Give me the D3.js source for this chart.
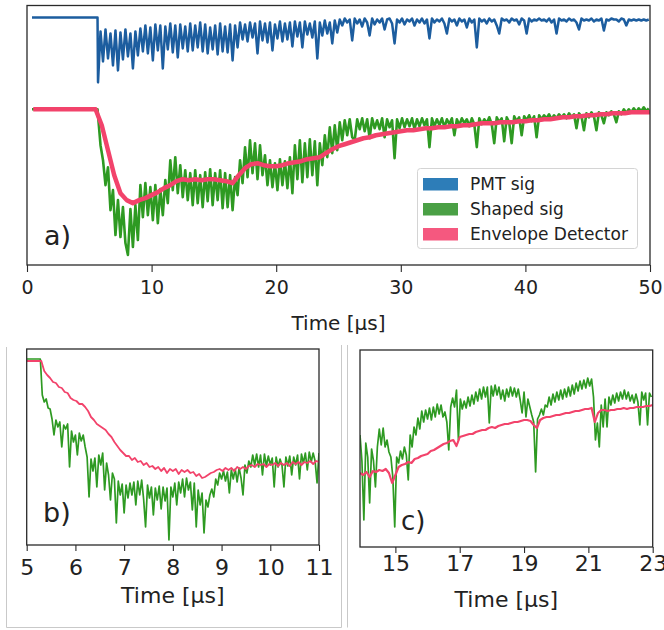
<!DOCTYPE html>
<html>
<head>
<meta charset="utf-8">
<script src="https://cdn.jsdelivr.net/npm/d3@7"></script>
<style>
  body { margin: 0; background: #fff; }
  svg { display: block; }
  text { font-family: "DejaVu Sans", sans-serif; fill: #222; }
</style>
</head>
<body>
<svg id="fig" width="664" height="630"></svg>
<script>
// ---------------- data (arbitrary amplitude units, time in µs) ----------------
// Panel a: full 50 µs record. Traces are stacked; baseline levels before the trigger.
const triggerA = 5.66;
const pmtBaseA = 248;
const shapedBaseA = 156;

// PMT signal, sampled every 0.2 µs from 5.7 µs
const pmtA_t0 = 5.7, pmtA_dt = 0.2;
const pmtSigA = [
  183,234,204,236,207,232,200,235,195,233,206,236,209,232,197,234,210,
  237,214,240,212,238,205,241,215,240,197,239,216,242,213,240,208,241,217,239,214,
  242,215,240,218,243,214,241,212,238,216,240,211,242,214,239,213,241,205,240,218,
  243,226,241,224,243,228,242,212,244,225,242,223,243,215,241,227,244,224,242,226,
  243,219,244,229,243,218,244,231,242,228,244,207,243,230,245,232,243,222,245,233,
  246,240,247,243,246,225,247,242,246,239,247,243,230,247,241,246,243,247,236,246,
  247,242,222,246,243,247,241,246,244,247,240,246,243,247,242,246,227,247,243,246,
  244,247,242,232,247,244,246,240,247,244,246,238,247,243,246,218,247,244,246,242,
  247,244,246,240,232,247,245,246,243,247,245,246,241,247,245,232,247,244,246,245,
  247,245,246,244,247,243,246,232,247,245,246,244,247,245,246,243,236,247,245,246,
  245,247,244,246,245,247,235,246,245,247,246,246,244,247,246,240,246,245,246,245,246,245,246,245,246
];

// Shaped signal, sampled every 0.2 µs from 5.7 µs
const shapedA_t0 = 5.7, shapedA_dt = 0.2;
const shapedSigA = [
  150,120,105,80,98,55,75,30,65,28,58,22,10,56,18,60,25,
  80,48,82,50,78,45,80,42,76,50,85,62,105,75,108,72,100,68,95,65,
  92,60,95,62,90,58,93,64,96,60,92,65,95,57,92,58,90,55,88,70,
  105,82,118,88,125,92,122,86,120,90,110,80,105,78,102,75,106,80,104,77,
  108,72,120,86,125,83,122,88,126,90,124,80,122,100,130,108,138,112,140,115,
  143,125,145,130,146,128,125,146,136,147,134,146,127,147,137,145,136,147,128,146,
  138,145,107,146,137,147,138,146,139,147,136,146,139,147,140,146,118,147,139,146,
  140,147,138,146,141,147,130,146,140,147,142,146,139,147,141,118,147,141,146,142,
  148,141,122,148,143,147,124,148,143,122,149,144,148,130,149,145,150,144,149,128,
  150,146,150,147,151,146,150,147,151,148,151,147,152,148,151,137,152,149,135,152,
  148,153,149,135,153,150,142,153,150,154,151,143,154,151,156,152,156,153,157,153,157,154,158,154,157
];

// Envelope detector output, every 0.5 µs from 0.5 µs
const envA_t0 = 0.5, envA_dt = 0.5;
const envelopeA = [
  156,156,156,156,156,156,156,156,156,156,156,
  140,115,90,72,65,62,65,67,70,
  73,77,80,84,86,85,86,85,86,86,
  85,84,82,90,97,101,102,100,99,99,
  100,102,103,104,106,107,108,112,116,119,
  121,123,125,127,128,130,131,132,133,134,
  135,135,136,137,137,138,138,139,139,140,
  140,141,142,142,142,143,143,143,144,144,
  145,145,146,146,147,148,148,149,149,150,
  150,151,151,152,152,152,153,153,153,153
];
const ticksA = [0, 10, 20, 30, 40, 50];

// Panel b: zoom on 5–11 µs
const shapedB_t0 = 5.0, shapedB_dt = 0.04;
const shapedSigB = [
  186,186,186,186,186,186,186,186,150,143,146,137,136,126,110,125,118,123,98,120,
  116,121,78,114,103,110,90,112,104,110,98,88,48,86,74,87,58,90,80,92,
  55,82,70,45,72,66,22,64,50,61,32,60,47,62,50,63,40,64,50,65,
  46,18,60,47,58,30,57,45,59,36,58,44,57,5,58,48,62,40,63,52,
  66,48,67,55,63,35,62,18,55,40,52,12,45,38,50,56,48,66,60,72,
  66,74,64,73,52,75,66,76,63,77,67,50,80,72,84,78,90,80,91,78,
  90,70,91,79,89,80,87,58,88,78,86,80,58,88,79,89,70,88,80,90,
  66,91,82,92,75,93,83,92,84,62,92
];
const envB_t0 = 5.0, envB_dt = 0.06;
const envelopeB = [
  184,184,184,184,184,184,174,170,167,163,162,158,157,153,152,147,145,144,141,141,
  138,134,128,125,121,119,117,115,111,108,103,99,95,92,89,89,85,87,83,84,
  80,82,78,79,76,78,74,77,72,76,74,76,71,75,73,75,72,73,69,71,
  67,68,70,72,73,75,76,74,77,75,77,74,78,76,78,76,79,80,78,81,
  80,81,78,81,80,82,79,82,80,82,79,83,81,83,80,83,82,84,81,84,83
];
const ticksB = [5, 6, 7, 8, 9, 10, 11];

// Panel c: zoom on 13.9–23 µs
const shapedC_t0 = 13.9, shapedC_dt = 0.06;
const shapedSigC = [
  112,86,27,104,90,44,98,86,60,100,118,102,119,100,107,95,90,70,20,90,
  84,96,88,100,92,67,112,100,120,112,129,118,136,125,137,128,139,127,140,130,
  143,133,142,130,135,125,97,140,149,140,157,107,148,138,146,139,150,141,152,143,
  155,146,158,148,160,150,160,124,161,151,162,152,160,148,157,146,158,150,160,151,
  159,150,158,147,134,155,130,148,140,132,125,75,128,132,138,132,142,140,150,142,
  153,145,155,147,157,148,158,150,160,151,162,153,164,156,166,158,167,159,169,161,
  168,150,107,124,100,142,120,148,120,150,142,152,144,154,146,155,148,157,148,155,
  146,152,144,153,145,122,155,147,154,122,154,150
];
const envC_t0 = 13.9, envC_dt = 0.1;
const envelopeC = [
  74,72,75,70,76,75,77,76,78,74,64,72,80,82,83,85,84,88,89,91,
  92,93,96,97,99,101,103,104,106,107,101,110,111,112,113,113,115,116,117,117,
  119,120,119,121,122,123,123,124,125,125,126,127,127,126,122,119,127,129,130,130,
  131,132,132,133,134,134,135,136,136,137,138,138,139,125,134,137,137,136,137,137,
  138,138,139,138,139,139,140,140,140,141,141,142
];
const ticksC = [15, 17, 19, 21, 23];

const legendItems = ["PMT sig", "Shaped sig", "Envelope Detector"];

// ---------------- styles ----------------
const C = {
  pmt: "#1c5d9f", shaped: "#2e9a22", env: "#f2436b",
  pmtPatch: "#2d7db8", shapedPatch: "#4aa045", envPatch: "#f5587f",
  frame: "#2a2a2a"
};

const svg = d3.select("#fig");
const seq = (t0, dt, vals) => vals.map((v, i) => [t0 + i * dt, v]);

// light container lines around the two zoom panels
const box = svg.append("g").attr("stroke", "#c9c9c9").attr("stroke-width", 1).attr("fill", "none");
box.append("path").attr("d", "M6.5,347V627.5H341.5V345");
box.append("path").attr("d", "M347.5,345V627.5");

function panel(o) {
  const x = d3.scaleLinear().domain(o.xDomain).range([o.left, o.right]);
  const y = d3.scaleLinear().domain(o.yDomain).range([o.bottom, o.top]);
  const g = svg.append("g");
  const clipId = "clip-" + o.id;
  svg.append("clipPath").attr("id", clipId)
    .append("rect").attr("x", o.left).attr("y", o.top)
    .attr("width", o.right - o.left).attr("height", o.bottom - o.top);

  const line = d3.line().x(d => x(d[0])).y(d => y(d[1]));
  const plot = g.append("g").attr("clip-path", `url(#${clipId})`);
  o.series.forEach(s => {
    plot.append("path").datum(s.data)
      .attr("d", line)
      .attr("fill", "none")
      .attr("stroke", s.color)
      .attr("stroke-width", s.width)
      .attr("stroke-linejoin", "round")
      .attr("stroke-linecap", "butt");
  });

  // axis
  const axis = d3.axisBottom(x).tickValues(o.ticks).tickSizeOuter(0)
    .tickSize(o.tickSize).tickPadding(o.tickPad).tickFormat(d3.format("d"));
  const ax = g.append("g").attr("transform", `translate(0,${o.bottom})`).call(axis);
  ax.select(".domain").remove();
  ax.selectAll(".tick line").attr("stroke", C.frame).attr("stroke-width", 1.1);
  ax.selectAll(".tick text").attr("font-size", o.tickFont)
    .attr("font-family", "DejaVu Sans, sans-serif").attr("fill", "#222");

  // frame
  g.append("rect").attr("x", o.left).attr("y", o.top)
    .attr("width", o.right - o.left).attr("height", o.bottom - o.top)
    .attr("fill", "none").attr("stroke", C.frame).attr("stroke-width", 1.3);

  // axis label
  g.append("text").attr("x", (o.left + o.right) / 2).attr("y", o.labelY)
    .attr("text-anchor", "middle").attr("font-size", o.labelFont)
    .text("Time [μs]");

  // panel tag
  g.append("text").attr("x", o.tagX).attr("y", o.tagY)
    .attr("font-size", o.tagFont).text(o.tag);
  return { x, y, g };
}

// ---- panel a ----
panel({
  id: "a", left: 27, right: 650, top: 5.5, bottom: 265,
  xDomain: [0, 50], yDomain: [0, 260], ticks: ticksA,
  tickSize: 7, tickPad: 9, tickFont: 19, labelFont: 20, labelY: 330,
  tag: "a)", tagX: 44, tagY: 245, tagFont: 27,
  series: [
    { data: [[0.4, pmtBaseA], [triggerA, pmtBaseA], ...seq(pmtA_t0, pmtA_dt, pmtSigA)], color: C.pmt, width: 2.5 },
    { data: [[0.4, shapedBaseA], [triggerA, shapedBaseA], ...seq(shapedA_t0, shapedA_dt, shapedSigA)], color: C.shaped, width: 2.6 },
    { data: seq(envA_t0, envA_dt, envelopeA), color: C.env, width: 4.5 }
  ]
});

// legend for panel a
const lg = svg.append("g");
lg.append("rect").attr("x", 417.5).attr("y", 168.5).attr("width", 220).attr("height", 80)
  .attr("rx", 3).attr("fill", "#fff").attr("fill-opacity", 0.85)
  .attr("stroke", "#d4d4d4").attr("stroke-width", 1);
const patchColors = [C.pmtPatch, C.shapedPatch, C.envPatch];
legendItems.forEach((name, i) => {
  lg.append("rect").attr("x", 423).attr("y", 178 + i * 25).attr("width", 35).attr("height", 12.5)
    .attr("fill", patchColors[i]);
  lg.append("text").attr("x", 470).attr("y", 190 + i * 24.8).attr("font-size", 17).text(name);
});

// ---- panel b ----
panel({
  id: "b", left: 26.7, right: 319, top: 349, bottom: 545,
  xDomain: [5, 11], yDomain: [0, 196], ticks: ticksB,
  tickSize: 6, tickPad: 8, tickFont: 22, labelFont: 22, labelY: 603,
  tag: "b)", tagX: 43, tagY: 522, tagFont: 27,
  series: [
    { data: seq(shapedB_t0, shapedB_dt, shapedSigB), color: C.shaped, width: 1.7 },
    { data: seq(envB_t0, envB_dt, envelopeB), color: C.env, width: 1.8 }
  ]
});

// ---- panel c ----
panel({
  id: "c", left: 360, right: 652.7, top: 350, bottom: 547,
  xDomain: [13.9, 23], yDomain: [0, 197], ticks: ticksC,
  tickSize: 6, tickPad: 2, tickFont: 22, labelFont: 22, labelY: 607,
  tag: "c)", tagX: 401, tagY: 530, tagFont: 26,
  series: [
    { data: seq(shapedC_t0, shapedC_dt, shapedSigC), color: C.shaped, width: 1.7 },
    { data: seq(envC_t0, envC_dt, envelopeC), color: C.env, width: 2.2 }
  ]
});
</script>
</body>
</html>
